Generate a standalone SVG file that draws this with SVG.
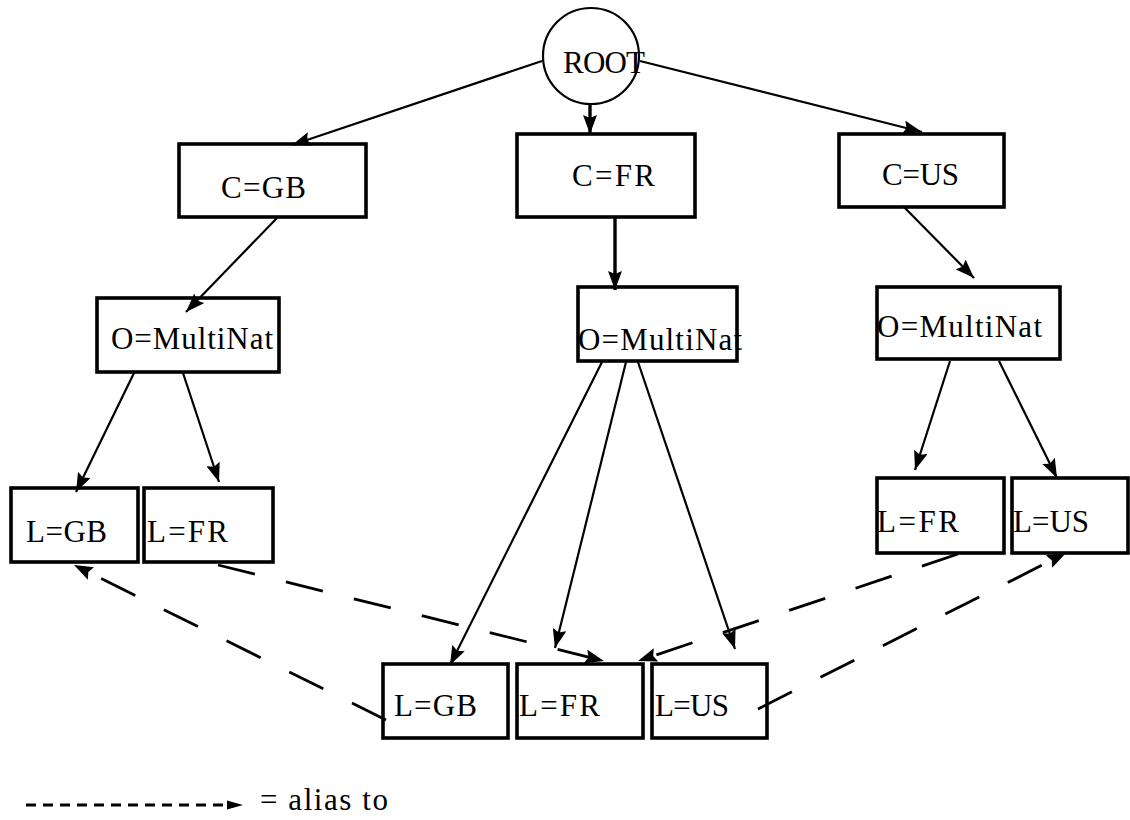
<svg xmlns="http://www.w3.org/2000/svg" width="1130" height="820" viewBox="0 0 1130 820">
<style>
.box{fill:none;stroke:#000;stroke-width:3.6}
.lbl{font-family:"Liberation Serif","Times New Roman",serif;font-size:31px;fill:#000}
.edge{fill:none;stroke:#000;stroke-width:2.2}
.thick{fill:none;stroke:#000;stroke-width:3.4}
.alias{fill:none;stroke:#000;stroke-width:2.8;stroke-dasharray:38 32}
</style>
<defs>
<marker id="ah" markerUnits="userSpaceOnUse" markerWidth="20" markerHeight="14" refX="19" refY="7" orient="auto">
<path d="M0,0 L19,7 L0,14 L3,7 z" fill="#000"/>
</marker>
</defs>
<rect width="1130" height="820" fill="#fff"/>
<g id="connectors">
<line class="edge" x1="542" y1="61" x2="292" y2="145" marker-end="url(#ah)"/>
<line class="thick" x1="590" y1="104" x2="590" y2="134" marker-end="url(#ah)"/>
<line class="edge" x1="640" y1="61" x2="922" y2="132" marker-end="url(#ah)"/>
<line class="edge" x1="277" y1="218" x2="186" y2="312" marker-end="url(#ah)"/>
<line class="thick" x1="615" y1="217" x2="615" y2="290" marker-end="url(#ah)"/>
<line class="edge" x1="903" y1="206" x2="974" y2="278" marker-end="url(#ah)"/>
<line class="edge" x1="134" y1="373" x2="76" y2="492" marker-end="url(#ah)"/>
<line class="edge" x1="183" y1="373" x2="219" y2="482" marker-end="url(#ah)"/>
<line class="edge" x1="602" y1="362" x2="450" y2="665" marker-end="url(#ah)"/>
<line class="edge" x1="626" y1="362" x2="555" y2="648" marker-end="url(#ah)"/>
<line class="edge" x1="638" y1="362" x2="735" y2="649" marker-end="url(#ah)"/>
<line class="edge" x1="950" y1="361" x2="915" y2="470" marker-end="url(#ah)"/>
<line class="edge" x1="999" y1="361" x2="1057" y2="478" marker-end="url(#ah)"/>
<line class="alias" x1="386" y1="720" x2="74" y2="565" marker-end="url(#ah)"/>
<line class="alias" x1="218" y1="565" x2="604" y2="661" marker-end="url(#ah)"/>
<line class="alias" x1="958" y1="554" x2="638" y2="661" marker-end="url(#ah)"/>
<line class="alias" x1="758" y1="709" x2="1066" y2="553" marker-end="url(#ah)"/>
</g>
<g id="root">
<ellipse cx="591" cy="56" rx="48" ry="48" fill="none" stroke="#000" stroke-width="2.2"/>
<text class="lbl" x="563" y="73" textLength="82">ROOT</text>
</g>
<g id="c-gb"><rect class="box" x="179" y="144" width="187" height="73"/><text class="lbl" x="221" y="198" textLength="85">C=GB</text></g>
<g id="c-fr"><rect class="box" x="517" y="134" width="178" height="83"/><text class="lbl" x="572" y="186" textLength="83">C=FR</text></g>
<g id="c-us"><rect class="box" x="839" y="134" width="165" height="73"/><text class="lbl" x="882" y="185" textLength="77">C=US</text></g>
<g id="o-gb"><rect class="box" x="97" y="298" width="182" height="74"/><text class="lbl" x="111" y="349" textLength="162">O=MultiNat</text></g>
<g id="o-fr"><rect class="box" x="578" y="287" width="159" height="74"/><text class="lbl" x="578" y="350" textLength="164">O=MultiNat</text></g>
<g id="o-us"><rect class="box" x="877" y="287" width="183" height="72"/><text class="lbl" x="877" y="337" textLength="165">O=MultiNat</text></g>
<g id="gb-l-gb"><rect class="box" x="11" y="488" width="127" height="74"/><text class="lbl" x="26" y="542" textLength="81">L=GB</text></g>
<g id="gb-l-fr"><rect class="box" x="144" y="488" width="129" height="74"/><text class="lbl" x="147" y="542" textLength="81">L=FR</text></g>
<g id="us-l-fr"><rect class="box" x="877" y="478" width="127" height="75"/><text class="lbl" x="877" y="532" textLength="82">L=FR</text></g>
<g id="us-l-us"><rect class="box" x="1012" y="478" width="116" height="75"/><text class="lbl" x="1013" y="532" textLength="76">L=US</text></g>
<g id="fr-l-gb"><rect class="box" x="383" y="664" width="125" height="74"/><text class="lbl" x="394" y="716" textLength="83">L=GB</text></g>
<g id="fr-l-fr"><rect class="box" x="517" y="664" width="126" height="74"/><text class="lbl" x="519" y="716" textLength="81">L=FR</text></g>
<g id="fr-l-us"><rect class="box" x="652" y="664" width="115" height="74"/><text class="lbl" x="655" y="716" textLength="74">L=US</text></g>
<g id="legend">
<line x1="26" y1="805" x2="230" y2="805" stroke="#000" stroke-width="3" stroke-dasharray="10 7"/>
<path d="M227,800.5 L243,805 L227,809.5 z" fill="#000"/>
<text class="lbl" x="260" y="810" textLength="128">= alias to</text>
</g>
</svg>
